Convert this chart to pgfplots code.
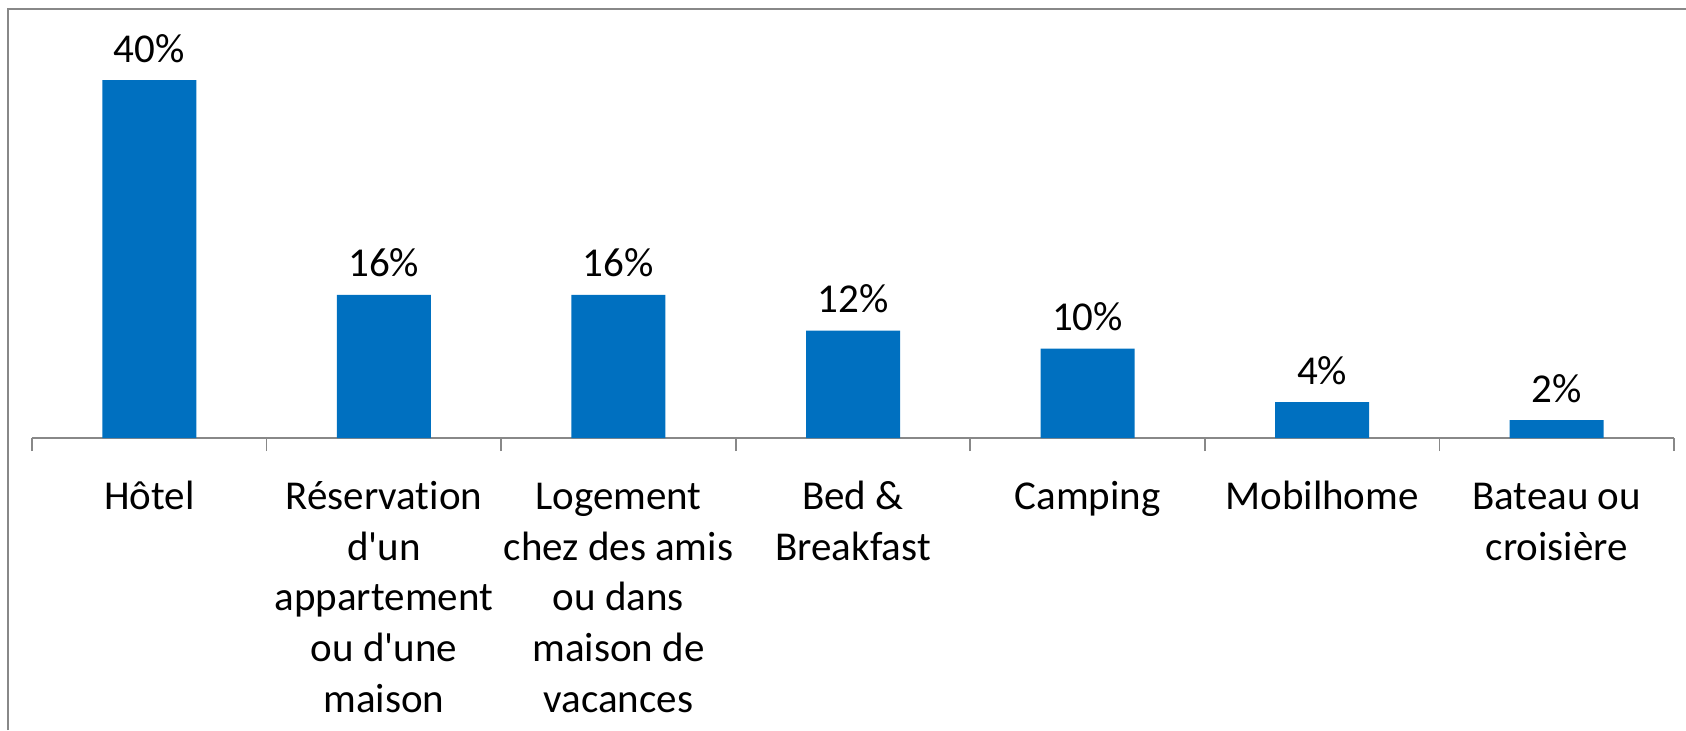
\documentclass[border=0pt]{standalone}
\usepackage{pgfplots}
\pgfplotsset{compat=1.18}
\usepackage{fontspec}
\setmainfont{Carlito}[Ligatures={NoCommon}]
\definecolor{barblue}{HTML}{0070C0}
\definecolor{framegray}{HTML}{888888}
\begin{document}
\begin{tikzpicture}
\path[use as bounding box] (0,0) rectangle (843pt,365pt);
\draw[framegray, line width=1pt] (4pt,0) -- (4pt,360.5pt) -- (843pt,360.5pt);
\begin{axis}[
    at={(16pt,146pt)}, anchor=south west,
    scale only axis,
    width=821pt, height=179pt,
    xmin=-0.5, xmax=6.5,
    ymin=0, ymax=40,
    enlargelimits=false,
    clip=false,
    axis x line*=bottom,
    axis y line=none,
    axis line style={framegray, line width=0.8pt},
    xtick=data,
    xticklabels={
        \strut Hôtel,
        \strut Réservation\\d\textquotesingle un\\appartement\\ou d\textquotesingle une\\maison,
        \strut Logement\\chez des amis\\ou dans\\maison de\\vacances,
        \strut Bed \&\\Breakfast,
        \strut Camping,
        \strut Mobilhome,
        \strut Bateau ou\\croisière},
    major tick length=0pt,
    minor xtick={-0.5,0.5,...,6.5},
    minor tick length=6.5pt,
    tick align=outside,
    minor tick style={framegray, line width=0.8pt},
    xticklabel style={align=center, anchor=north, yshift=-14.3pt,
        font=\fontsize{20.5}{25.4}\selectfont},
    ybar,
    bar width=47pt,
    /pgf/number format/assume math mode=true,
    nodes near coords={\pgfmathprintnumber{\pgfplotspointmeta}\%},
    nodes near coords style={font=\fontsize{20.5}{25.4}\selectfont, yshift=5.3pt},
]
\addplot[fill=barblue, draw=none] coordinates {
    (0,40) (1,16) (2,16) (3,12) (4,10) (5,4) (6,2)
};
\end{axis}
\end{tikzpicture}
\end{document}
